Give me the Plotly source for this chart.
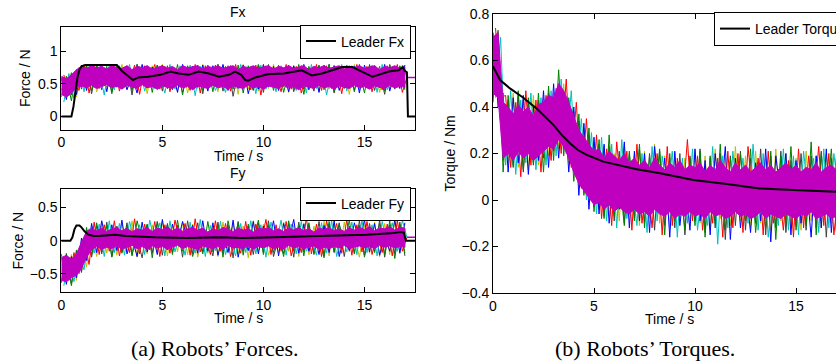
import plotly.graph_objects as go

# ---------------- sample times (robots) ----------------
T = [0.0, 0.25, 0.5, 0.75, 1.0, 1.25, 1.5, 1.75, 2.0, 2.25,
     2.5, 2.75, 3.0, 3.25, 3.5, 3.75, 4.0, 4.25, 4.5, 4.75,
     5.0, 5.25, 5.5, 5.75, 6.0, 6.25, 6.5, 6.75, 7.0, 7.25,
     7.5, 7.75, 8.0, 8.25, 8.5, 8.75, 9.0, 9.25, 9.5, 9.75,
     10.0, 10.25, 10.5, 10.75, 11.0, 11.25, 11.5, 11.75, 12.0, 12.25,
     12.5, 12.75, 13.0, 13.25, 13.5, 13.75, 14.0, 14.25, 14.5, 14.75,
     15.0, 15.25, 15.5, 15.75, 16.0, 16.25, 16.5, 16.75, 17.0]
T2 = [0.125, 0.375, 0.625, 0.875, 1.125, 1.375, 1.625, 1.875, 2.125, 2.375,
      2.625, 2.875, 3.125, 3.375, 3.625, 3.875, 4.125, 4.375, 4.625, 4.875,
      5.125, 5.375, 5.625, 5.875, 6.125, 6.375, 6.625, 6.875, 7.125, 7.375,
      7.625, 7.875, 8.125, 8.375, 8.625, 8.875, 9.125, 9.375, 9.625, 9.875,
      10.125, 10.375, 10.625, 10.875, 11.125, 11.375, 11.625, 11.875, 12.125, 12.375,
      12.625, 12.875, 13.125, 13.375, 13.625, 13.875, 14.125, 14.375, 14.625, 14.875,
      15.125, 15.375, 15.625, 15.875, 16.125, 16.375, 16.625, 16.875, 17.1]
END_T = [17.1, 17.5]

# ---------------- Fx ----------------
FX_M_HI = [0.62, 0.58, 0.64, 0.72, 0.77, 0.74, 0.78, 0.75, 0.77, 0.73,
           0.78, 0.75, 0.74, 0.78, 0.72, 0.77, 0.75, 0.78, 0.73, 0.76,
           0.78, 0.74, 0.77, 0.72, 0.78, 0.75, 0.76, 0.78, 0.73, 0.77,
           0.75, 0.78, 0.74, 0.76, 0.78, 0.72, 0.77, 0.75, 0.78, 0.74,
           0.76, 0.78, 0.73, 0.77, 0.75, 0.78, 0.74, 0.76, 0.78, 0.72,
           0.77, 0.75, 0.78, 0.74, 0.76, 0.78, 0.73, 0.77, 0.75, 0.78,
           0.74, 0.76, 0.78, 0.72, 0.77, 0.75, 0.78, 0.74, 0.76]
FX_M_LO = [0.34, 0.30, 0.36, 0.44, 0.47, 0.44, 0.48, 0.43, 0.46, 0.49,
           0.44, 0.47, 0.42, 0.48, 0.45, 0.43, 0.49, 0.44, 0.46, 0.42,
           0.47, 0.45, 0.43, 0.48, 0.44, 0.46, 0.41, 0.47, 0.45, 0.43,
           0.48, 0.44, 0.46, 0.42, 0.47, 0.45, 0.43, 0.48, 0.44, 0.46,
           0.42, 0.47, 0.45, 0.43, 0.48, 0.44, 0.46, 0.41, 0.47, 0.45,
           0.43, 0.48, 0.44, 0.46, 0.42, 0.47, 0.45, 0.43, 0.48, 0.44,
           0.46, 0.42, 0.47, 0.45, 0.43, 0.48, 0.44, 0.46, 0.45]
FX_M_END = [0.6, 0.6]
FX_B = [0.60, 0.26, 0.66, 0.34, 0.79, 0.40, 0.78, 0.52, 0.80, 0.38,
        0.77, 0.45, 0.66, 0.41, 0.62, 0.36, 0.80, 0.44, 0.76, 0.50,
        0.79, 0.43, 0.70, 0.37, 0.80, 0.58, 0.77, 0.45, 0.79, 0.39,
        0.78, 0.53, 0.80, 0.40, 0.68, 0.43, 0.79, 0.35, 0.65, 0.42,
        0.80, 0.46, 0.77, 0.40, 0.71, 0.38, 0.78, 0.52, 0.80, 0.41,
        0.76, 0.37, 0.79, 0.56, 0.78, 0.40, 0.69, 0.45, 0.77, 0.36,
        0.79, 0.51, 0.78, 0.44, 0.80, 0.39, 0.67, 0.43, 0.79]
FX_G = [0.30, 0.62, 0.24, 0.72, 0.42, 0.78, 0.39, 0.80, 0.54, 0.77,
        0.35, 0.79, 0.43, 0.69, 0.40, 0.80, 0.60, 0.78, 0.37, 0.79,
        0.44, 0.70, 0.41, 0.80, 0.33, 0.78, 0.52, 0.64, 0.40, 0.79,
        0.38, 0.80, 0.45, 0.71, 0.42, 0.79, 0.36, 0.78, 0.50, 0.80,
        0.59, 0.76, 0.40, 0.79, 0.37, 0.68, 0.43, 0.80, 0.34, 0.77,
        0.53, 0.79, 0.41, 0.80, 0.38, 0.62, 0.44, 0.78, 0.40, 0.70,
        0.36, 0.80, 0.51, 0.77, 0.39, 0.79, 0.45, 0.78, 0.41]
FX_R = [0.64, 0.32, 0.58, 0.40, 0.80, 0.36, 0.77, 0.43, 0.68, 0.47,
        0.80, 0.39, 0.76, 0.52, 0.79, 0.34, 0.78, 0.57, 0.80, 0.42,
        0.77, 0.38, 0.69, 0.45, 0.61, 0.40, 0.80, 0.36, 0.78, 0.51,
        0.79, 0.47, 0.77, 0.39, 0.80, 0.44, 0.70, 0.41, 0.79, 0.33,
        0.78, 0.53, 0.63, 0.38, 0.80, 0.42, 0.77, 0.36, 0.68, 0.46,
        0.80, 0.40, 0.78, 0.43, 0.76, 0.35, 0.79, 0.60, 0.80, 0.50,
        0.77, 0.38, 0.71, 0.41, 0.78, 0.45, 0.80, 0.37, 0.60]
FX_C = [0.22, 0.66, 0.28, 0.75, 0.38, 0.77, 0.44, 0.70, 0.33, 0.80,
        0.41, 0.78, 0.52, 0.80, 0.46, 0.77, 0.39, 0.68, 0.43, 0.63,
        0.36, 0.80, 0.42, 0.78, 0.50, 0.79, 0.32, 0.77, 0.44, 0.69,
        0.40, 0.58, 0.37, 0.79, 0.43, 0.80, 0.54, 0.77, 0.35, 0.79,
        0.42, 0.71, 0.38, 0.78, 0.44, 0.61, 0.40, 0.79, 0.36, 0.80,
        0.43, 0.77, 0.33, 0.70, 0.45, 0.80, 0.39, 0.78, 0.51, 0.76,
        0.44, 0.79, 0.37, 0.80, 0.41, 0.69, 0.46, 0.79, 0.60]
FX_Y = [0.56, 0.36, 0.68, 0.30, 0.76, 0.43, 0.80, 0.38, 0.62, 0.45,
        0.79, 0.51, 0.80, 0.42, 0.70, 0.46, 0.79, 0.35, 0.78, 0.41,
        0.80, 0.53, 0.59, 0.39, 0.79, 0.36, 0.68, 0.43, 0.80, 0.47,
        0.76, 0.38, 0.79, 0.52, 0.78, 0.34, 0.80, 0.42, 0.70, 0.39,
        0.79, 0.43, 0.80, 0.50, 0.64, 0.37, 0.78, 0.41, 0.79, 0.44,
        0.69, 0.38, 0.77, 0.42, 0.79, 0.54, 0.78, 0.34, 0.80, 0.40,
        0.61, 0.44, 0.79, 0.37, 0.70, 0.42, 0.77, 0.50, 0.79]
FX_K = [0.40, 0.58, 0.33, 0.68, 0.46, 0.79, 0.35, 0.77, 0.41, 0.70,
        0.38, 0.64, 0.44, 0.78, 0.33, 0.80, 0.53, 0.77, 0.45, 0.79,
        0.39, 0.78, 0.46, 0.69, 0.37, 0.62, 0.43, 0.79, 0.35, 0.77,
        0.51, 0.80, 0.39, 0.78, 0.31, 0.70, 0.45, 0.60, 0.40, 0.78,
        0.37, 0.80, 0.52, 0.77, 0.46, 0.79, 0.38, 0.68, 0.42, 0.63,
        0.39, 0.78, 0.45, 0.80, 0.36, 0.71, 0.43, 0.77, 0.38, 0.80,
        0.50, 0.78, 0.40, 0.69, 0.34, 0.80, 0.42, 0.77, 0.44]
FX_L_T = [0, 0.5, 0.6, 0.7, 0.8, 0.9, 1.0, 1.2, 2.0, 2.75,
          3.0, 3.3, 3.55, 3.8, 4.3, 4.9, 5.4, 5.8, 6.3, 6.8,
          7.3, 7.8, 8.3, 8.6, 8.9, 9.1, 9.25, 9.6, 10.2, 11.0,
          11.9, 12.4, 12.9, 13.4, 13.9, 14.4, 14.9, 15.4, 15.7, 16.2,
          16.7, 16.9, 17.0, 17.1, 17.15, 17.5]
FX_L = [0, 0, 0.15, 0.38, 0.6, 0.72, 0.77, 0.79, 0.79, 0.79,
        0.70, 0.63, 0.56, 0.60, 0.61, 0.64, 0.69, 0.66, 0.64, 0.69,
        0.66, 0.61, 0.64, 0.69, 0.64, 0.56, 0.55, 0.60, 0.65, 0.66,
        0.71, 0.63, 0.66, 0.71, 0.76, 0.76, 0.69, 0.61, 0.64, 0.69,
        0.71, 0.76, 0.70, 0.68, 0, 0]

# ---------------- Fy ----------------
FY_M_HI = [-0.26, -0.22, -0.28, -0.20, -0.02, 0.14, 0.18, 0.15, 0.19, 0.14,
           0.18, 0.20, 0.15, 0.19, 0.13, 0.18, 0.16, 0.20, 0.14, 0.19,
           0.17, 0.21, 0.15, 0.19, 0.14, 0.18, 0.20, 0.16, 0.19, 0.13,
           0.18, 0.15, 0.20, 0.17, 0.14, 0.19, 0.16, 0.18, 0.13, 0.19,
           0.17, 0.20, 0.15, 0.18, 0.14, 0.19, 0.16, 0.20, 0.15, 0.18,
           0.13, 0.19, 0.17, 0.20, 0.15, 0.18, 0.14, 0.19, 0.16, 0.20,
           0.17, 0.21, 0.15, 0.19, 0.18, 0.21, 0.16, 0.20, 0.19]
FY_M_LO = [-0.60, -0.62, -0.56, -0.52, -0.42, -0.25, -0.14, -0.09, -0.13, -0.10,
           -0.12, -0.08, -0.13, -0.10, -0.07, -0.12, -0.09, -0.13, -0.08, -0.11,
           -0.09, -0.13, -0.10, -0.07, -0.12, -0.09, -0.11, -0.13, -0.08, -0.10,
           -0.12, -0.09, -0.13, -0.07, -0.11, -0.10, -0.12, -0.08, -0.13, -0.09,
           -0.11, -0.08, -0.12, -0.10, -0.13, -0.07, -0.11, -0.09, -0.12, -0.10,
           -0.08, -0.13, -0.10, -0.12, -0.09, -0.11, -0.07, -0.12, -0.10, -0.08,
           -0.11, -0.09, -0.12, -0.07, -0.10, -0.08, -0.11, -0.09, -0.10]
FY_M_END = [0.05, 0.05]
FY_B = [-0.20, -0.66, -0.24, -0.56, 0.04, -0.30, 0.26, -0.18, 0.30, -0.05,
        0.24, -0.15, 0.31, -0.20, 0.05, -0.24, 0.28, -0.17, 0.12, -0.21,
        0.32, -0.14, 0.25, -0.03, 0.29, 0.02, 0.23, -0.19, 0.30, -0.16,
        0.27, -0.22, 0.08, -0.18, 0.31, -0.25, 0.10, -0.15, 0.29, -0.20,
        0.22, -0.06, 0.30, -0.23, 0.26, -0.04, 0.32, -0.19, 0.25, -0.16,
        0.11, -0.21, 0.23, -0.18, 0.30, -0.24, 0.06, -0.15, 0.27, -0.02,
        0.31, -0.17, 0.26, -0.22, 0.09, -0.16, 0.32, -0.19, 0.27]
FY_G = [-0.64, -0.19, -0.68, -0.14, -0.46, 0.20, -0.22, 0.27, -0.17, 0.23,
        -0.25, 0.10, -0.19, 0.22, -0.23, 0.30, -0.02, 0.25, -0.26, 0.28,
        -0.04, 0.24, -0.21, 0.31, -0.16, 0.12, -0.24, 0.05, -0.20, 0.29,
        -0.17, 0.23, -0.25, 0.30, -0.05, 0.27, -0.22, 0.25, -0.03, 0.31,
        -0.21, 0.24, -0.18, 0.09, -0.24, 0.30, -0.16, 0.22, -0.23, 0.27,
        -0.19, 0.04, -0.26, 0.29, -0.17, 0.25, -0.06, 0.31, -0.20, 0.23,
        -0.25, 0.11, -0.18, 0.26, -0.21, 0.30, -0.27, 0.25, -0.19]
FY_R = [-0.23, -0.60, -0.18, -0.50, 0.02, -0.36, 0.28, -0.21, 0.24, -0.16,
        0.30, -0.23, 0.12, -0.18, 0.33, -0.20, 0.25, -0.14, 0.29, -0.24,
        0.24, -0.19, 0.31, -0.02, 0.26, -0.22, 0.33, -0.17, 0.10, -0.21,
        0.30, -0.16, 0.26, -0.24, 0.04, -0.19, 0.29, -0.22, 0.25, -0.05,
        0.32, -0.21, 0.24, -0.16, 0.29, -0.23, 0.11, -0.18, 0.34, -0.20,
        0.25, -0.24, 0.30, -0.05, 0.26, -0.19, 0.32, -0.22, 0.24, -0.17,
        0.29, -0.21, 0.13, -0.18, 0.25, -0.23, 0.30, -0.16, 0.05]
FY_C = [-0.68, -0.25, -0.62, -0.18, -0.44, 0.18, -0.19, 0.25, -0.24, 0.30,
        -0.18, 0.26, -0.22, 0.29, -0.03, 0.24, -0.21, 0.31, -0.04, 0.27,
        -0.23, 0.30, -0.17, 0.12, -0.22, 0.28, -0.19, 0.32, -0.24, 0.23,
        -0.15, 0.29, -0.21, 0.06, -0.23, 0.26, -0.18, 0.30, -0.20, 0.24,
        -0.25, 0.28, -0.05, 0.31, -0.22, 0.25, -0.20, 0.29, -0.16, 0.03,
        -0.22, 0.27, -0.19, 0.30, -0.24, 0.10, -0.17, 0.28, -0.21, 0.31,
        -0.18, 0.24, -0.23, 0.29, -0.04, 0.27, -0.16, 0.31, 0.05]
FY_Y = [-0.26, -0.58, -0.21, -0.60, 0.00, -0.40, 0.22, -0.24, 0.27, -0.19,
        0.21, -0.22, 0.26, -0.16, 0.30, -0.25, 0.04, -0.20, 0.24, -0.18,
        0.29, -0.23, 0.22, -0.17, 0.27, -0.21, 0.25, -0.25, 0.05, -0.19,
        0.23, -0.24, 0.28, -0.17, 0.26, -0.20, 0.22, -0.26, 0.30, -0.18,
        0.25, -0.22, 0.03, -0.19, 0.28, -0.16, 0.23, -0.24, 0.27, -0.21,
        0.22, -0.18, 0.29, -0.23, 0.25, -0.20, 0.28, -0.17, 0.06, -0.25,
        0.24, -0.19, 0.28, -0.24, 0.26, -0.21, 0.29, -0.18, 0.25]
FY_K = [-0.62, -0.22, -0.66, -0.16, -0.48, 0.16, -0.25, 0.23, -0.20, 0.28,
        -0.24, 0.22, -0.17, 0.27, -0.21, 0.05, -0.26, 0.24, -0.19, 0.29,
        -0.22, 0.26, -0.18, 0.23, -0.25, 0.30, -0.20, 0.27, -0.17, 0.04,
        -0.23, 0.28, -0.19, 0.24, -0.26, 0.29, -0.16, 0.22, -0.21, 0.27,
        -0.18, 0.30, -0.24, 0.05, -0.20, 0.26, -0.25, 0.28, -0.17, 0.24,
        -0.21, 0.29, -0.23, 0.25, -0.18, 0.27, -0.24, 0.22, -0.19, 0.30,
        -0.22, 0.26, -0.17, 0.31, -0.25, 0.24, -0.20, 0.28, -0.23]
FY_L_T = [0, 0.45, 0.55, 0.65, 0.75, 0.9, 1.0, 1.15, 1.34, 1.6,
          1.84, 2.2, 2.66, 3.2, 4.6, 6.2, 7.9, 8.9, 10.2, 11.5,
          12.7, 14.0, 15.1, 16.3, 16.8, 16.95, 17.05, 17.5]
FY_L = [0, 0, 0.05, 0.17, 0.23, 0.23, 0.2, 0.14, 0.09, 0.07,
        0.07, 0.08, 0.09, 0.07, 0.05, 0.04, 0.05, 0.04, 0.045, 0.06,
        0.07, 0.08, 0.09, 0.11, 0.13, 0.12, 0, 0]

# ---------------- Torque ----------------
TQ_M_HI = [0.70, 0.72, 0.42, 0.40, 0.37, 0.41, 0.38, 0.40, 0.36, 0.41,
           0.42, 0.45, 0.44, 0.50, 0.47, 0.42, 0.36, 0.30, 0.27, 0.24,
           0.21, 0.22, 0.18, 0.21, 0.19, 0.17, 0.20, 0.16, 0.18, 0.15,
           0.17, 0.14, 0.18, 0.15, 0.13, 0.16, 0.14, 0.17, 0.13, 0.15,
           0.14, 0.16, 0.12, 0.15, 0.13, 0.17, 0.14, 0.12, 0.16, 0.13,
           0.15, 0.12, 0.14, 0.16, 0.13, 0.15, 0.12, 0.14, 0.16, 0.13,
           0.15, 0.12, 0.14, 0.13, 0.16, 0.12, 0.14, 0.15, 0.13]
TQ_M_LO = [0.46, 0.44, 0.18, 0.20, 0.17, 0.21, 0.18, 0.20, 0.17, 0.19,
           0.21, 0.23, 0.22, 0.26, 0.23, 0.18, 0.12, 0.07, 0.04, 0.01,
           -0.02, -0.01, -0.04, -0.02, -0.05, -0.03, -0.05, -0.06, -0.04, -0.06,
           -0.05, -0.07, -0.04, -0.06, -0.07, -0.05, -0.08, -0.06, -0.07, -0.05,
           -0.07, -0.06, -0.08, -0.05, -0.07, -0.06, -0.08, -0.07, -0.05, -0.07,
           -0.06, -0.08, -0.07, -0.05, -0.08, -0.06, -0.07, -0.08, -0.06, -0.07,
           -0.08, -0.06, -0.07, -0.05, -0.08, -0.07, -0.06, -0.08, -0.07]
TQ_B = [0.72, 0.40, 0.46, 0.12, 0.44, 0.16, 0.45, 0.11, 0.40, 0.17,
        0.47, 0.14, 0.50, 0.18, 0.46, 0.12, 0.40, 0.02, 0.33, -0.04,
        0.27, -0.06, 0.24, -0.10, 0.12, -0.04, 0.25, -0.12, 0.21, -0.09,
        0.20, -0.14, 0.23, 0.00, 0.18, -0.16, 0.21, -0.11, 0.08, -0.13,
        0.22, -0.09, 0.17, -0.15, 0.20, -0.02, 0.23, -0.17, 0.18, -0.12,
        0.07, -0.14, 0.16, -0.09, 0.22, -0.18, 0.19, 0.01, 0.20, -0.15,
        0.17, -0.10, 0.09, -0.16, 0.19, -0.12, 0.22, -0.14, 0.18]
TQ_G = [0.42, 0.73, 0.12, 0.45, 0.15, 0.47, 0.13, 0.44, 0.16, 0.46,
        0.12, 0.49, 0.17, 0.56, 0.19, 0.44, 0.08, 0.37, 0.02, 0.31,
        -0.05, 0.26, -0.08, 0.28, -0.07, 0.10, -0.11, 0.21, -0.09, 0.24,
        -0.12, 0.19, 0.00, 0.22, -0.15, 0.20, -0.09, 0.07, -0.13, 0.18,
        -0.11, 0.21, -0.16, 0.19, -0.10, 0.24, -0.13, 0.18, 0.01, 0.20,
        -0.09, 0.22, -0.14, 0.08, -0.12, 0.21, -0.17, 0.19, -0.10, 0.23,
        -0.13, 0.06, -0.11, 0.25, -0.15, 0.20, -0.01, 0.22, -0.14]
TQ_R = [0.74, 0.44, 0.45, 0.14, 0.42, 0.10, 0.47, 0.15, 0.43, 0.12,
        0.45, 0.17, 0.48, 0.20, 0.52, 0.14, 0.42, 0.05, 0.35, 0.00,
        0.28, -0.08, 0.22, -0.11, 0.25, 0.01, 0.21, -0.13, 0.24, -0.10,
        0.09, -0.12, 0.20, -0.15, 0.23, -0.11, 0.18, -0.02, 0.26, -0.09,
        0.19, -0.13, 0.08, -0.10, 0.18, -0.16, 0.21, -0.12, 0.20, -0.14,
        0.23, 0.00, 0.18, -0.15, 0.21, -0.10, 0.07, -0.13, 0.17, -0.16,
        0.22, -0.12, 0.19, -0.01, 0.23, -0.11, 0.20, -0.15, 0.04]
TQ_C = [0.44, 0.70, 0.15, 0.47, 0.11, 0.43, 0.16, 0.46, 0.13, 0.44,
        0.15, 0.47, 0.19, 0.52, 0.20, 0.47, 0.10, 0.35, 0.00, 0.29,
        -0.06, 0.27, -0.09, 0.24, -0.12, 0.26, -0.08, 0.09, -0.11, 0.20,
        -0.14, 0.23, -0.09, 0.19, 0.01, 0.21, -0.16, 0.18, -0.10, 0.22,
        -0.13, 0.07, -0.11, 0.23, -0.19, 0.19, -0.12, 0.21, -0.02, 0.18,
        -0.10, 0.24, -0.13, 0.20, -0.16, 0.06, -0.11, 0.22, -0.13, 0.19,
        -0.15, 0.21, 0.00, 0.18, -0.14, 0.22, -0.12, 0.20, 0.03]
TQ_Y = [0.68, 0.46, 0.40, 0.16, 0.46, 0.14, 0.43, 0.13, 0.45, 0.15,
        0.44, 0.19, 0.46, 0.22, 0.50, 0.16, 0.38, 0.06, 0.31, 0.02,
        0.25, -0.04, 0.23, -0.07, 0.20, -0.09, 0.24, -0.06, 0.19, -0.11,
        0.21, -0.08, 0.24, -0.10, 0.19, -0.12, 0.20, -0.09, 0.18, -0.11,
        0.21, -0.10, 0.19, -0.13, 0.22, -0.08, 0.18, -0.11, 0.23, -0.09,
        0.19, -0.12, 0.21, -0.10, 0.18, -0.13, 0.22, -0.09, 0.20, -0.11,
        0.18, -0.13, 0.21, -0.09, 0.19, -0.12, 0.20, -0.10, 0.19]
TQ_K = [0.47, 0.71, 0.17, 0.43, 0.14, 0.45, 0.12, 0.42, 0.15, 0.43,
        0.18, 0.46, 0.21, 0.50, 0.22, 0.43, 0.12, 0.34, 0.03, 0.28,
        -0.03, 0.24, -0.07, 0.23, -0.09, 0.21, -0.10, 0.20, -0.08, 0.22,
        -0.10, 0.20, -0.13, 0.21, -0.11, 0.18, -0.12, 0.20, -0.15, 0.19,
        -0.09, 0.22, -0.14, 0.18, -0.12, 0.20, -0.17, 0.19, -0.11, 0.21,
        -0.13, 0.18, -0.10, 0.22, -0.15, 0.19, -0.12, 0.21, -0.14, 0.17,
        -0.11, 0.20, -0.13, 0.19, -0.12, 0.21, -0.16, 0.18, -0.13]
TQ_L_T = [0, 0.35, 0.84, 1.34, 1.5, 2.2, 2.99, 3.4, 3.81, 4.2, 4.64,
          5.46, 6.3, 7.11, 8.27, 9.1, 9.92, 11.57, 13.2, 14.86, 16.5, 17.0]
TQ_L = [0.575, 0.516, 0.48, 0.452, 0.44, 0.39, 0.323, 0.28, 0.244, 0.215, 0.194,
        0.165, 0.147, 0.132, 0.115, 0.10, 0.086, 0.069, 0.05, 0.043, 0.036, 0.035]

# ---------------- styling ----------------
W, H = 836, 364
SANS = "Liberation Sans, Arial, Helvetica, sans-serif"
SERIF = "Liberation Serif, Times New Roman, serif"
COL = {"b": "#0000FF", "g": "#008000", "r": "#FF0000", "c": "#00BFBF",
       "m": "#BF00BF", "y": "#BFBF00", "k": "#404040"}
# robots sampled on the second (interleaved) clock
ON_T2 = {"r", "c"}

fig = go.Figure()


def add_panel(xa, ya, robots, m_hi, m_lo, m_end, lt, lv, lname, legend):
    for key, vals in robots:
        fig.add_trace(go.Scatter(x=T2 if key in ON_T2 else T, y=vals, mode="lines",
                                 xaxis=xa, yaxis=ya,
                                 line=dict(color=COL[key], width=1),
                                 showlegend=False, hoverinfo="skip"))
    fig.add_trace(go.Scatter(x=T + T[::-1], y=m_hi + m_lo[::-1], mode="lines",
                             fill="toself", fillcolor=COL["m"],
                             line=dict(color=COL["m"], width=1),
                             xaxis=xa, yaxis=ya, showlegend=False, hoverinfo="skip"))
    if m_end is not None:
        fig.add_trace(go.Scatter(x=END_T, y=m_end, mode="lines", xaxis=xa, yaxis=ya,
                                 line=dict(color=COL["m"], width=1.5),
                                 showlegend=False, hoverinfo="skip"))
    fig.add_trace(go.Scatter(x=lt, y=lv, mode="lines", xaxis=xa, yaxis=ya,
                             line=dict(color="black", width=2), name=lname,
                             legend=legend, showlegend=True, hoverinfo="skip"))


add_panel("x", "y", [("y", FX_Y), ("k", FX_K), ("b", FX_B), ("g", FX_G), ("r", FX_R), ("c", FX_C)],
          FX_M_HI, FX_M_LO, FX_M_END, FX_L_T, FX_L, "Leader Fx", "legend")
add_panel("x2", "y2", [("y", FY_Y), ("k", FY_K), ("b", FY_B), ("g", FY_G), ("r", FY_R), ("c", FY_C)],
          FY_M_HI, FY_M_LO, FY_M_END, FY_L_T, FY_L, "Leader Fy", "legend2")
add_panel("x3", "y3", [("y", TQ_Y), ("k", TQ_K), ("b", TQ_B), ("g", TQ_G), ("r", TQ_R), ("c", TQ_C)],
          TQ_M_HI, TQ_M_LO, None, TQ_L_T, TQ_L, "Leader Torque", "legend3")


def px_x(p):
    return p / W


def px_y(p):
    return 1 - p / H


axis_common = dict(showline=True, linecolor="black", linewidth=1, ticks="inside",
                   ticklen=5, tickwidth=1, tickcolor="black", showgrid=False,
                   zeroline=False, tickfont=dict(family=SANS, size=14, color="black"))

fig.update_layout(
    width=W, height=H, margin=dict(l=0, r=0, t=0, b=0, autoexpand=False),
    paper_bgcolor="white", plot_bgcolor="white", hovermode=False,
    xaxis=dict(domain=[px_x(61.3), px_x(415)], range=[0, 17.5], tickvals=[0, 5, 10, 15],
               anchor="y", mirror="ticks", **axis_common),
    yaxis=dict(domain=[px_y(129.5), px_y(26.7)], range=[-0.2, 1.38], tickvals=[0, 0.5, 1],
               anchor="x", mirror="ticks", **axis_common),
    xaxis2=dict(domain=[px_x(61.3), px_x(415)], range=[0, 17.5], tickvals=[0, 5, 10, 15],
                anchor="y2", mirror="ticks", **axis_common),
    yaxis2=dict(domain=[px_y(292.3), px_y(189)], range=[-0.78, 0.78], tickvals=[-0.5, 0, 0.5],
                anchor="x2", mirror="ticks", **axis_common),
    xaxis3=dict(domain=[px_x(493), 1.0], range=[0, 16.98], tickvals=[0, 5, 10, 15],
                anchor="y3", mirror="ticks", **axis_common),
    yaxis3=dict(domain=[px_y(293), px_y(14)], range=[-0.4, 0.8],
                tickvals=[-0.4, -0.2, 0, 0.2, 0.4, 0.6, 0.8],
                anchor="x3", mirror=False, **axis_common),
)

leg_common = dict(bgcolor="white", bordercolor="black", borderwidth=1,
                  font=dict(family=SANS, size=14, color="black"), itemwidth=30,
                  yanchor="middle", tracegroupgap=0)
fig.update_layout(
    legend=dict(x=px_x(411), y=px_y(41.5), xanchor="right", **leg_common),
    legend2=dict(x=px_x(411), y=px_y(203.5), xanchor="right", **leg_common),
    legend3=dict(x=px_x(714), y=px_y(29), xanchor="left", **leg_common),
)


def ann(text, x, y, size=14, family=SANS, angle=0):
    fig.add_annotation(text=text, x=px_x(x), y=px_y(y), xref="paper", yref="paper",
                       xanchor="center", yanchor="middle", showarrow=False, textangle=angle,
                       font=dict(family=family, size=size, color="black"))


ann("Fx", 238, 11.5)
ann("Fy", 238, 173)
ann("Time / s", 238, 155.5)
ann("Time / s", 238, 318)
ann("Time / s", 669.5, 319)
ann("Force / N", 25, 78, angle=-90)
ann("Force / N", 17, 240.5, angle=-90)
ann("Torque / Nm", 449, 153.5, angle=-90)
ann("(a) Robots’ Forces.", 215, 348, size=22, family=SERIF)
ann("(b) Robots’ Torques.", 645, 348, size=22, family=SERIF)

fig.write_html("out.html", config={"displayModeBar": False, "staticPlot": True},
               post_script="document.body.style.margin='0px';"
                           "document.body.style.overflow='hidden';")
